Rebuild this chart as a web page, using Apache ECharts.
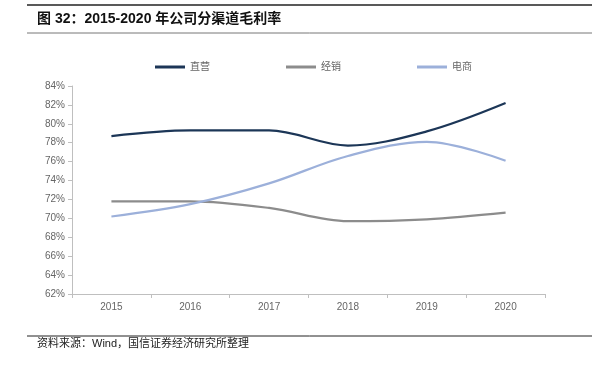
<!DOCTYPE html>
<html>
<head>
<meta charset="utf-8">
<script src="https://cdn.jsdelivr.net/npm/echarts@6/dist/echarts.min.js"></script>
<style>
  html, body { margin: 0; padding: 0; background: #fff; }
  #chart { width: 592px; height: 365px; }
</style>
</head>
<body>
<div id="chart"></div>
<script>
var years = ['2015', '2016', '2017', '2018', '2019', '2020']
var direct = [78.7, 79.3, 79.3, 77.7, 79.2, 82.2]     // 直营
var dealer = [71.8, 71.8, 71.1, 69.7, 69.9, 70.6]     // 经销
var online = [70.2, 71.5, 73.7, 76.6, 78.1, 76.1]     // 电商
var seriesNames = ['直营', '经销', '电商']
var colors = ['#1c3657', '#8c8c8c', '#9cb0da']

var chart = echarts.init(document.getElementById('chart'))
var font = 'Liberation Sans, Arial, Noto Sans CJK SC, sans-serif'

function makeLine(name, data, color) {
  return {
    name: name,
    type: 'line',
    data: data,
    smooth: 0.35,
    symbol: 'none',
    lineStyle: { color: color, width: 2.2 },
    itemStyle: { color: color }
  }
}

chart.setOption({
  animation: false,
  textStyle: { fontFamily: font },
  graphic: [
    { type: 'line', shape: { x1: 27, y1: 5, x2: 592, y2: 5 }, style: { stroke: '#222', lineWidth: 1.5 } },
    { type: 'text', left: 37, top: 12, style: { text: '图 32：2015-2020 年公司分渠道毛利率', fill: '#111', font: 'bold 14px ' + font } },
    { type: 'line', shape: { x1: 27, y1: 33, x2: 592, y2: 33 }, style: { stroke: '#777', lineWidth: 1 } },
    { type: 'line', shape: { x1: 27, y1: 336, x2: 592, y2: 336 }, style: { stroke: '#222', lineWidth: 1 } },
    { type: 'text', left: 37, top: 338, style: { text: '资料来源：Wind，国信证券经济研究所整理', fill: '#222', font: '11px ' + font } }
  ],
  legend: {
    left: 150,
    top: 57,
    itemWidth: 30,
    itemHeight: 3,
    itemGap: 76,
    icon: 'rect',
    data: seriesNames,
    textStyle: { fontSize: 10, color: '#666' }
  },
  grid: { left: 72, right: 47, top: 86, bottom: 71 },
  xAxis: {
    type: 'category',
    data: years,
    boundaryGap: true,
    axisLine: { lineStyle: { color: '#bfbfbf' } },
    axisTick: { show: true, alignWithLabel: false, length: 4, lineStyle: { color: '#bfbfbf' } },
    axisLabel: { color: '#666', fontSize: 10, margin: 8 }
  },
  yAxis: {
    type: 'value',
    min: 62,
    max: 84,
    interval: 2,
    axisLine: { show: true, lineStyle: { color: '#bfbfbf' } },
    axisTick: { show: true, length: 4, lineStyle: { color: '#bfbfbf' } },
    splitLine: { show: false },
    axisLabel: { color: '#666', fontSize: 10, margin: 7, formatter: '{value}%' }
  },
  series: [
    makeLine(seriesNames[0], direct, colors[0]),
    makeLine(seriesNames[1], dealer, colors[1]),
    makeLine(seriesNames[2], online, colors[2])
  ]
})
</script>
</body>
</html>
